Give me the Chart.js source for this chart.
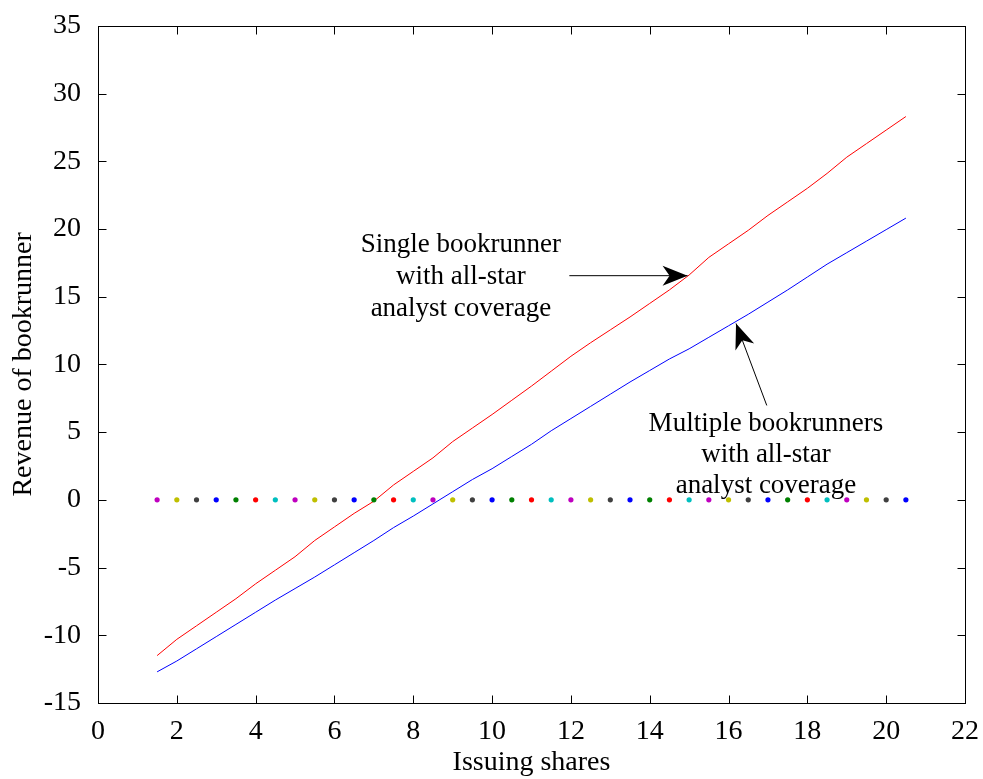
<!DOCTYPE html>
<html>
<head>
<meta charset="utf-8">
<script src="https://cdn.jsdelivr.net/npm/chart.js@4/dist/chart.umd.min.js"></script>
<style>
  html, body { margin: 0; padding: 0; background: #ffffff; }
  #wrap { width: 983px; height: 779px; }
</style>
</head>
<body>
<div id="wrap"><canvas id="c" width="983" height="779"></canvas></div>
<script>
// ---- data ----
const issuingShares = [1.5, 2, 2.5, 3, 3.5, 4, 4.5, 5, 5.5, 6, 6.5, 7, 7.5, 8, 8.5, 9, 9.5, 10, 10.5, 11,
  11.5, 12, 12.5, 13, 13.5, 14, 14.5, 15, 15.5, 16, 16.5, 17, 17.5, 18, 18.5, 19, 19.5, 20, 20.5];
const singleRevenue = [-11.5, -10.3, -9.3, -8.3, -7.3, -6.2, -5.2, -4.2, -3.0, -2.0, -1.0, -0.1, 1.1, 2.1, 3.1, 4.3,
  5.3, 6.3, 7.35, 8.4, 9.5, 10.6, 11.6, 12.55, 13.5, 14.5, 15.5, 16.6, 17.9, 18.9, 19.9, 21.0, 22.0, 23.0,
  24.1, 25.3, 26.3, 27.3, 28.3];
const multipleRevenue = [-12.7, -11.9, -11.0, -10.1, -9.2, -8.3, -7.4, -6.55, -5.7, -4.8, -3.9, -3.0, -2.05, -1.2,
  -0.3, 0.6, 1.5, 2.3, 3.2, 4.1, 5.1, 6.0, 6.9, 7.8, 8.7, 9.55, 10.4, 11.15, 12.0, 12.85, 13.7, 14.6, 15.5,
  16.45, 17.4, 18.25, 19.1, 19.95, 20.8];
const zeroDotX = [1.5, 2, 2.5, 3, 3.5, 4, 4.5, 5, 5.5, 6, 6.5, 7, 7.5, 8, 8.5, 9, 9.5, 10, 10.5, 11,
  11.5, 12, 12.5, 13, 13.5, 14, 14.5, 15, 15.5, 16, 16.5, 17, 17.5, 18, 18.5, 19, 19.5, 20, 20.5];
const zeroDotY = [0, 0, 0, 0, 0, 0, 0, 0, 0, 0, 0, 0, 0, 0, 0, 0, 0, 0, 0, 0,
  0, 0, 0, 0, 0, 0, 0, 0, 0, 0, 0, 0, 0, 0, 0, 0, 0, 0, 0];
const xTickRange = { min: 0, max: 22, step: 2 };
const yTickRange = { min: -15, max: 35, step: 5 };
const xTitle = 'Issuing shares';
const yTitle = 'Revenue of bookrunner';
const noteSingle = ['Single bookrunner', 'with all-star', 'analyst coverage'];
const noteMultiple = ['Multiple bookrunners', 'with all-star', 'analyst coverage'];

// ---- styles / annotation placement ----
const dotColorCycle = ['#bf00bf', '#bfbf00', '#404040', '#0000ff', '#008000', '#ff0000', '#00bfbf'];
const FONT = "'Liberation Serif', 'Times New Roman', serif";
const annotations = [
  { lines: noteSingle, x: 9.21, y: 18.29, lineGap: 31.7,
    arrow: { from: [11.96, 16.55], to: [14.96, 16.55] } },
  { lines: noteMultiple, x: 16.95, y: 5.10, lineGap: 31,
    arrow: { from: [16.97, 6.97], to: [16.19, 13.02] } }
];

const toXY = (xs, ys) => xs.map((x, i) => ({ x: x, y: ys[i] }));

function drawArrowHead(ctx, x1, y1, x2, y2) {
  const ang = Math.atan2(y2 - y1, x2 - x1);
  const L = 25, W = 10, N = 18;
  const c = Math.cos(ang), s = Math.sin(ang);
  const pt = (a, b) => [x2 - a * c - b * s, y2 - a * s + b * c];
  const p1 = pt(L, W), p2 = pt(N, 0), p3 = pt(L, -W);
  ctx.beginPath();
  ctx.moveTo(x2, y2);
  ctx.lineTo(p1[0], p1[1]);
  ctx.lineTo(p2[0], p2[1]);
  ctx.lineTo(p3[0], p3[1]);
  ctx.closePath();
  ctx.fill();
}

const framePlugin = {
  id: 'matlabFrame',
  afterDatasetsDraw(chart) {
    const { ctx, chartArea: a, scales: { x, y } } = chart;
    ctx.save();
    ctx.strokeStyle = '#000';
    ctx.fillStyle = '#000';
    ctx.lineWidth = 1;
    const L = Math.round(a.left) + 0.5, R = Math.round(a.right) + 0.5;
    const T = Math.round(a.top) + 0.5, B = Math.round(a.bottom) + 0.5;
    ctx.strokeRect(L, T, R - L, B - T);
    const tl = 8;
    ctx.beginPath();
    x.ticks.forEach(t => {
      const px = Math.round(x.getPixelForValue(t.value)) + 0.5;
      ctx.moveTo(px, B); ctx.lineTo(px, B - tl);
      ctx.moveTo(px, T); ctx.lineTo(px, T + tl);
    });
    y.ticks.forEach(t => {
      const py = Math.round(y.getPixelForValue(t.value)) + 0.5;
      ctx.moveTo(L, py); ctx.lineTo(L + tl, py);
      ctx.moveTo(R, py); ctx.lineTo(R - tl, py);
    });
    ctx.stroke();

    // annotations
    ctx.font = '27px ' + FONT;
    ctx.textAlign = 'center';
    ctx.textBaseline = 'alphabetic';
    annotations.forEach(an => {
      const cx = x.getPixelForValue(an.x);
      const cy = y.getPixelForValue(an.y);
      an.lines.forEach((ln, i) => ctx.fillText(ln, cx, cy + i * an.lineGap));
      const x1 = x.getPixelForValue(an.arrow.from[0]), y1 = y.getPixelForValue(an.arrow.from[1]);
      const x2 = x.getPixelForValue(an.arrow.to[0]), y2 = y.getPixelForValue(an.arrow.to[1]);
      ctx.beginPath();
      ctx.moveTo(x1, y1);
      ctx.lineTo(x2, y2);
      ctx.stroke();
      drawArrowHead(ctx, x1, y1, x2, y2);
    });
    ctx.restore();
  }
};

new Chart(document.getElementById('c'), {
  type: 'scatter',
  data: {
    datasets: [
      {
        label: 'zero',
        data: toXY(zeroDotX, zeroDotY),
        pointRadius: 2.6,
        pointBorderWidth: 0,
        pointBackgroundColor: zeroDotX.map((_, i) => dotColorCycle[i % dotColorCycle.length]),
        showLine: false,
        order: 0
      },
      {
        label: 'Single bookrunner',
        data: toXY(issuingShares, singleRevenue),
        showLine: true,
        borderColor: '#ff0000',
        borderWidth: 1,
        pointRadius: 0,
        tension: 0,
        order: 1
      },
      {
        label: 'Multiple bookrunners',
        data: toXY(issuingShares, multipleRevenue),
        showLine: true,
        borderColor: '#0000ff',
        borderWidth: 1,
        pointRadius: 0,
        tension: 0,
        order: 1
      }
    ]
  },
  options: {
    responsive: false,
    animation: false,
    events: [],
    layout: { padding: { top: 19, right: 18, left: 0, bottom: 0 } },
    plugins: { legend: { display: false }, tooltip: { enabled: false } },
    scales: {
      x: {
        type: 'linear',
        min: xTickRange.min, max: xTickRange.max,
        ticks: { stepSize: xTickRange.step, color: '#000', font: { family: FONT, size: 28 }, padding: 4, maxRotation: 0 },
        grid: { display: false },
        border: { display: false },
        title: { display: true, text: xTitle, color: '#000', font: { family: FONT, size: 28 }, padding: { top: 0, bottom: 0 } },
        afterFit(s) { s.height = 76; }
      },
      y: {
        type: 'linear',
        min: yTickRange.min, max: yTickRange.max,
        ticks: { stepSize: yTickRange.step, color: '#000', font: { family: FONT, size: 28 }, padding: 9 },
        grid: { display: false },
        border: { display: false },
        title: { display: true, text: yTitle, color: '#000', font: { family: FONT, size: 28 }, padding: { top: 7, bottom: 0 } },
        afterFit(s) { s.width = 98; }
      }
    }
  },
  plugins: [framePlugin]
});
</script>
</body>
</html>
